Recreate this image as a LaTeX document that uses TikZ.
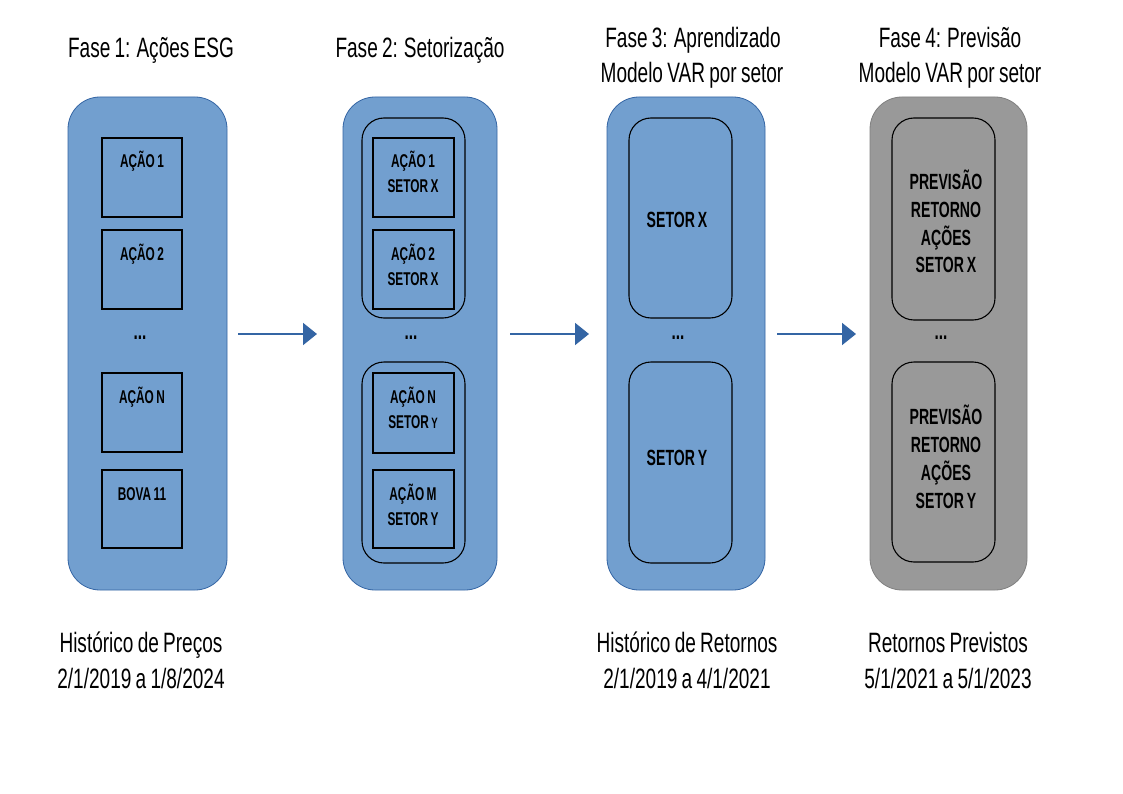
\documentclass[tikz,border=0pt]{standalone}
\usepackage{fontspec}
\usetikzlibrary{arrows.meta}
\newfontfamily\narrow[FakeStretch=0.68,WordSpace=0.8]{Liberation Sans}
\newfontfamily\narrowb[FakeStretch=0.64,WordSpace=0.75]{Liberation Sans Bold}
\definecolor{boxblue}{HTML}{729FCF}
\definecolor{boxedge}{HTML}{3465A4}
\definecolor{arrblue}{HTML}{3465A4}
\definecolor{boxgrey}{HTML}{999999}
\definecolor{greyedge}{HTML}{808080}
\tikzset{
  outerbox/.style={draw=boxedge, fill=boxblue, line width=0.8pt, rounded corners=32pt},
  greybox/.style={draw=greyedge, fill=boxgrey, line width=0.8pt, rounded corners=32pt},
  groupbox/.style={draw=black, line width=1.1pt, rounded corners=22pt},
  itembox/.style={draw=black, line width=1.3pt},
  heading/.style={font=\narrow\fontsize{28}{32}\selectfont, anchor=base, inner sep=0pt},
  lbl/.style={font=\narrowb\fontsize{18.5}{25}\selectfont, anchor=base, inner sep=0pt},
  biglbl/.style={font=\narrowb\fontsize{22}{27}\selectfont, anchor=base, inner sep=0pt},
  dots/.style={font=\narrowb\fontsize{24}{26}\selectfont, anchor=base, inner sep=0pt},
  arr/.style={draw=arrblue, line width=2pt, -{Triangle[length=14pt,width=22pt]}}
}
\begin{document}
\begin{tikzpicture}[x=1pt,y=-1pt]
\useasboundingbox (0,0) rectangle (1123,794);
\fill[white] (0,0) rectangle (1123,794);

% ---------- outer panels ----------
\draw[outerbox] (68,97) rectangle (227,590);
\node[inner sep=0pt] (p1) at (147.5,343.5) {};
\draw[outerbox] (343,97) rectangle (497,590);
\node[inner sep=0pt] (p2) at (420,343.5) {};
\draw[outerbox] (607,97) rectangle (765,590);
\node[inner sep=0pt] (p3) at (686,343.5) {};
\draw[greybox] (870,97) rectangle (1027,590);
\node[inner sep=0pt] (p4) at (948.5,343.5) {};

% ---------- phase 1 ----------
\draw[itembox] (102,138) rectangle (182,217);
\draw[itembox] (102,230) rectangle (182,309);
\draw[itembox] (102,373) rectangle (182,452);
\draw[itembox] (102,470) rectangle (182,548);
\node[lbl] (a1) at (142,168) {AÇÃO 1};
\node[lbl] (a2) at (142,260) {AÇÃO 2};
\node[dots] (d1) at (140,339) {...};
\node[lbl] (an) at (142,403) {AÇÃO N};
\node[lbl] (bv) at (142,500) {BOVA 11};

% ---------- phase 2 ----------
\draw[groupbox] (362,118) rectangle (465,318);
\draw[groupbox] (362,362) rectangle (465,563);
\draw[itembox] (373,138) rectangle (454,217);
\draw[itembox] (373,230) rectangle (454,309);
\draw[itembox] (373,373) rectangle (454,453);
\draw[itembox] (373,470) rectangle (454,548);
\node[lbl] (b1a) at (413,168) {AÇÃO 1};
\node[lbl] (b1b) at (413,193) {SETOR X};
\node[lbl] (b2a) at (413,260) {AÇÃO 2};
\node[lbl] (b2b) at (413,285) {SETOR X};
\node[dots] (d2) at (411,339) {...};
\node[lbl] (bna) at (413,403) {AÇÃO N};
\node[lbl] (bnb) at (413,428) {SETOR {\fontsize{15}{18}\selectfont Y}};
\node[lbl] (bma) at (413,500) {AÇÃO M};
\node[lbl] (bmb) at (413,525) {SETOR Y};

% ---------- phase 3 ----------
\draw[groupbox] (629,118) rectangle (732,318);
\draw[groupbox] (629,362) rectangle (732,563);
\node[biglbl] (sx) at (677,228) {SETOR X};
\node[dots] (d3) at (678,339) {...};
\node[biglbl] (sy) at (677,465) {SETOR Y};

% ---------- phase 4 ----------
\draw[groupbox] (892,118) rectangle (995,320);
\draw[groupbox] (892,362) rectangle (995,562);
\node[biglbl] (x1) at (946,190) {PREVISÃO};
\node[biglbl] (x2) at (946,218) {RETORNO};
\node[biglbl] (x3) at (946,245) {AÇÕES};
\node[biglbl] (x4) at (946,272) {SETOR X};
\node[dots] (d4) at (941,339) {...};
\node[biglbl] (y1) at (946,424) {PREVISÃO};
\node[biglbl] (y2) at (946,452) {RETORNO};
\node[biglbl] (y3) at (946,480) {AÇÕES};
\node[biglbl] (y4) at (946,508) {SETOR Y};

% ---------- arrows ----------
\coordinate (a1s) at (238,334);
\coordinate (a1e) at (317,334);
\coordinate (a2s) at (510,334);
\coordinate (a2e) at (589,334);
\coordinate (a3s) at (777,334);
\coordinate (a3e) at (856,334);
\draw[arr] (a1s) -- (a1e);
\draw[arr] (a2s) -- (a2e);
\draw[arr] (a3s) -- (a3e);

% ---------- headings ----------
\node[heading] (t1) at (151,58) {Fase 1: Ações ESG};
\node[heading] (t2) at (420,58) {Fase 2: Setorização};
\node[heading] (t3a) at (693,48) {Fase 3: Aprendizado};
\node[heading] (t3b) at (692,83) {Modelo VAR por setor};
\node[heading] (t4a) at (950,48) {Fase 4: Previsão};
\node[heading] (t4b) at (950,83) {Modelo VAR por setor};

% ---------- footers ----------
\node[heading] (f1a) at (141,652) {Histórico de Preços};
\node[heading] (f1b) at (141,688) {2/1/2019 a 1/8/2024};
\node[heading] (f3a) at (687,652) {Histórico de Retornos};
\node[heading] (f3b) at (687,688) {2/1/2019 a 4/1/2021};
\node[heading] (f4a) at (948,652) {Retornos Previstos};
\node[heading] (f4b) at (948,688) {5/1/2021 a 5/1/2023};
\end{tikzpicture}
\end{document}
